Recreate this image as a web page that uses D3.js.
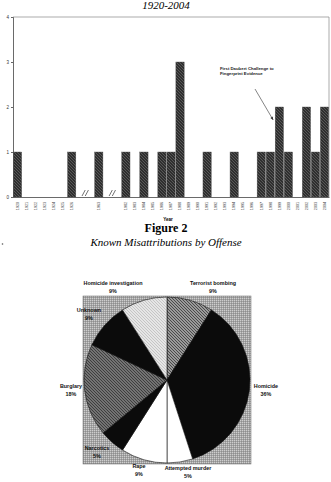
<!DOCTYPE html>
<html>
<head>
<meta charset="utf-8">
<script src="https://cdn.jsdelivr.net/npm/d3@7"></script>
<style>
  body { margin: 0; background: #fff; }
  svg { display: block; }
</style>
</head>
<body>
<div id="chart"></div>
<script>
// figure 1 data - three runs of years split by axis breaks
var years1 = ["1920", "1921", "1922", "1923", "1924", "1925", "1926"];
var counts1 = [1, 0, 0, 0, 0, 0, 1];
var years2 = ["1963"];
var counts2 = [1];
var years3 = ["1982", "1983", "1984", "1985", "1986", "1987", "1988", "1989", "1990", "1991", "1992", "1993",
              "1994", "1995", "1996", "1997", "1998", "1999", "2000", "2001", "2002", "2003", "2004"];
var counts3 = [1, 0, 1, 0, 1, 1, 3, 0, 0, 1, 0, 0, 1, 0, 0, 1, 1, 2, 1, 0, 2, 1, 2];
var yTicks = [0, 1, 2, 3, 4];

// figure 2 data
var offenses = ["Terrorist bombing", "Homicide", "Attempted murder", "Rape", "Narcotics", "Burglary", "Unknown", "Homicide investigation"];
var shares = [9, 36, 5, 9, 5, 18, 9, 9];

function init() {
    var w = 331, h = 482;
    var svg = d3.select("#chart").append("svg").attr("width", w).attr("height", h);
    var defs = svg.append("defs");

    // patterns to mimic the scanned textures
    function stripes(id, bg, fg, size, sw) {
        var p = defs.append("pattern").attr("id", id).attr("patternUnits", "userSpaceOnUse")
            .attr("width", size).attr("height", size);
        p.append("rect").attr("width", size).attr("height", size).attr("fill", bg);
        p.append("path").attr("d", "M0,0L" + size + "," + size + "M-1," + (size - 1) + "L1," + (size + 1) + "M" + (size - 1) + ",-1L" + (size + 1) + ",1")
            .attr("stroke", fg).attr("stroke-width", sw);
    }
    stripes("barTex", "#2f2f2f", "#6a6a6a", 3, 0.7);
    stripes("bombTex", "#9a9a9a", "#4a4a4a", 3, 1);
    stripes("burgTex", "#8a8a8a", "#3a3a3a", 3, 1.1);
    stripes("invTex", "#e6e6e6", "#b8b8b8", 3, 0.7);
    var stip = defs.append("pattern").attr("id", "bgTex").attr("patternUnits", "userSpaceOnUse")
        .attr("width", 2).attr("height", 2);
    stip.append("rect").attr("width", 2).attr("height", 2).attr("fill", "#a4a4a4");
    stip.append("rect").attr("width", 1).attr("height", 1).attr("fill", "#cdcdcd");
    stip.append("rect").attr("x", 1).attr("y", 1).attr("width", 1).attr("height", 1).attr("fill", "#8e8e8e");

    // ---------- Figure 1 : bar chart ----------
    svg.append("text").attr("x", 166).attr("y", 9).attr("text-anchor", "middle")
        .style("font-family", "Liberation Serif, serif").style("font-style", "italic").style("font-size", "11px")
        .text("1920-2004");

    var bars = [];
    years1.forEach(function(y, i) { bars.push({ year: y, v: counts1[i] }); });
    years2.forEach(function(y, i) { bars.push({ year: y, v: counts2[i] }); });
    years3.forEach(function(y, i) { bars.push({ year: y, v: counts3[i] }); });

    // band domain with two empty slots at each break
    var slots = years1.concat(["b1a", "b1b"], years2, ["b2a", "b2b"], years3);
    var left = 13, right = 329, top = 17, bottom = 197;
    var x = d3.scaleBand().domain(slots).range([left, right]).paddingInner(0.08).paddingOuter(0.04);
    var y = d3.scaleLinear().domain([0, 4]).range([bottom, top]);

    var g1 = svg.append("g");
    // frame top / right
    g1.append("path").attr("d", "M" + left + "," + y(4) + "H" + right + "V" + bottom)
        .attr("fill", "none").attr("stroke", "#888").attr("stroke-width", 0.7);

    g1.selectAll("rect.bar").data(bars.filter(d => d.v > 0)).enter().append("rect")
        .attr("class", "bar")
        .attr("x", d => x(d.year))
        .attr("y", d => y(d.v))
        .attr("width", x.bandwidth())
        .attr("height", d => y(0) - y(d.v))
        .attr("fill", "url(#barTex)")
        .attr("stroke", "#555").attr("stroke-width", 0.4);

    var yAxis = d3.axisLeft(y).tickValues(yTicks).tickFormat(d3.format("d")).tickSize(2).tickPadding(2);
    var ya = g1.append("g").attr("transform", "translate(" + left + ",0)").call(yAxis);
    ya.select(".domain").attr("stroke", "#444").attr("stroke-width", 0.8);
    ya.selectAll("text").style("font-family", "Liberation Sans, Arial, sans-serif").style("font-size", "4.5px").attr("fill", "#333");
    ya.selectAll("line").attr("stroke", "#666");

    var xa = g1.append("g").attr("transform", "translate(0," + bottom + ")")
        .call(d3.axisBottom(x).tickValues(years1.concat(years2, years3)).tickSize(0).tickPadding(0));
    xa.select(".domain").attr("stroke", "#444").attr("stroke-width", 0.8);
    xa.selectAll("text")
        .attr("transform", "rotate(-90)").attr("x", -9).attr("y", 0).attr("dy", "0.32em")
        .attr("text-anchor", "middle")
        .style("font-family", "Liberation Sans, Arial, sans-serif").style("font-size", "3.8px").attr("fill", "#444");

    // axis break marks
    [["b1a", "b1b"], ["b2a", "b2b"]].forEach(function(b) {
        var cx = (x(b[0]) + x(b[1]) + x.bandwidth()) / 2;
        [-1.6, 1.6].forEach(function(o) {
            g1.append("line").attr("x1", cx + o - 1.6).attr("y1", bottom - 1)
                .attr("x2", cx + o + 1.6).attr("y2", bottom - 7)
                .attr("stroke", "#333").attr("stroke-width", 0.7);
        });
    });

    g1.append("text").attr("x", 168).attr("y", 221).attr("text-anchor", "middle")
        .style("font-family", "Liberation Sans, Arial, sans-serif").style("font-weight", "bold").style("font-size", "4.5px")
        .text("Year");

    // annotation
    var ann = g1.append("text").attr("x", 220).attr("y", 70)
        .style("font-family", "Liberation Sans, Arial, sans-serif").style("font-weight", "bold").style("font-size", "4.3px").attr("fill", "#222");
    ann.append("tspan").attr("x", 220).text("First Daubert Challenge to");
    ann.append("tspan").attr("x", 220).attr("dy", 5.2).text("Fingerprint Evidence");
    var tipX = x("1999") - 2, tipY = y(2) + 13;
    g1.append("line").attr("x1", 255).attr("y1", 89).attr("x2", tipX).attr("y2", tipY)
        .attr("stroke", "#333").attr("stroke-width", 0.6);
    var ang = Math.atan2(tipY - 89, tipX - 255);
    var ah = 3.5;
    g1.append("path")
        .attr("d", "M" + tipX + "," + tipY +
            "L" + (tipX - ah * Math.cos(ang - 0.4)) + "," + (tipY - ah * Math.sin(ang - 0.4)) +
            "L" + (tipX - ah * Math.cos(ang + 0.4)) + "," + (tipY - ah * Math.sin(ang + 0.4)) + "Z")
        .attr("fill", "#333");

    // ---------- Figure 2 : pie chart ----------
    svg.append("text").attr("x", 166).attr("y", 232).attr("text-anchor", "middle")
        .style("font-family", "Liberation Serif, serif").style("font-weight", "bold").style("font-size", "12px")
        .text("Figure 2");
    svg.append("text").attr("x", 166).attr("y", 246).attr("text-anchor", "middle")
        .style("font-family", "Liberation Serif, serif").style("font-style", "italic").style("font-size", "11px")
        .text("Known Misattributions by Offense");
    svg.append("circle").attr("cx", 2.5).attr("cy", 244).attr("r", 0.8).attr("fill", "#555");

    var pcx = 167, pcy = 380, r = 83;
    svg.append("rect").attr("x", 83).attr("y", 296).attr("width", 168).attr("height", 168)
        .attr("fill", "url(#bgTex)").attr("stroke", "#666").attr("stroke-width", 0.5);

    var fills = ["url(#bombTex)", "#0b0b0b", "#ffffff", "#ffffff", "#0b0b0b", "url(#burgTex)", "#0b0b0b", "url(#invTex)"];
    var pie = d3.pie().sort(null).value(d => d);
    var arc = d3.arc().innerRadius(0).outerRadius(r);
    var pg = svg.append("g").attr("transform", "translate(" + pcx + "," + pcy + ")");
    pg.selectAll("path").data(pie(shares)).enter().append("path")
        .attr("d", arc)
        .attr("fill", (d, i) => fills[i])
        .attr("stroke", "#111").attr("stroke-width", 0.6);

    // label positions (x, y of the name line)
    var labelPos = [[213, 285], [266, 388], [188, 470], [139, 468], [97, 450], [71, 388], [89, 312], [113, 285]];
    offenses.forEach(function(name, i) {
        var t = svg.append("text").attr("text-anchor", "middle")
            .style("font-family", "Liberation Sans, Arial, sans-serif").style("font-weight", "bold").style("font-size", "5.4px")
            .attr("fill", "#111");
        t.append("tspan").attr("x", labelPos[i][0]).attr("y", labelPos[i][1]).text(name);
        t.append("tspan").attr("x", labelPos[i][0]).attr("dy", 7.5).text(shares[i] + "%");
    });
}
window.onload = init;
</script>
</body>
</html>
